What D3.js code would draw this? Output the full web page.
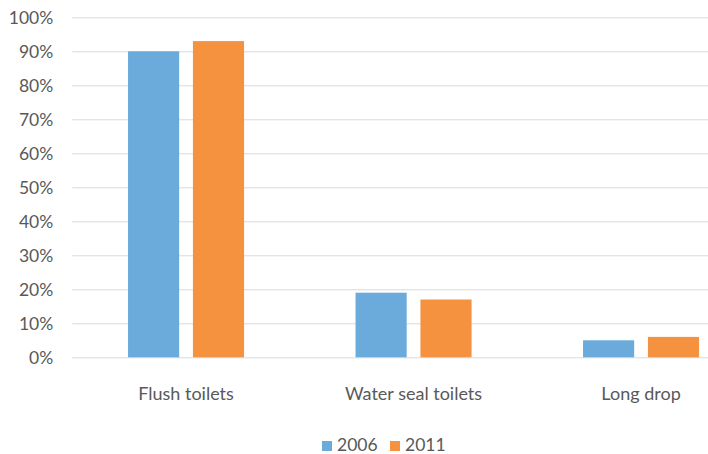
<!DOCTYPE html>
<html>
<head>
<meta charset="utf-8">
<script src="https://cdn.jsdelivr.net/npm/d3@7"></script>
<style>
  body { margin: 0; background: #fff; }
  text { font-family: Lato, "Open Sans", sans-serif; fill: #595959; }
</style>
</head>
<body>
<div id="chart"></div>
<script>
// Chart data
const categories = ["Flush toilets", "Water seal toilets", "Long drop"];
const years = ["2006", "2011"];
const values2006 = [90, 19, 5];
const values2011 = [93, 17, 6];
const yTicks = [0, 10, 20, 30, 40, 50, 60, 70, 80, 90, 100];
const colors = ["#6aabdc", "#f4923f"];

const W = 708, H = 454;
const margin = { top: 17.3, left: 72.3, bottom: 96.7 };
const height = H - margin.top - margin.bottom;

const svg = d3.select("#chart")
  .append("svg")
  .attr("width", W)
  .attr("height", H);

const g = svg.append("g")
  .attr("transform", `translate(${margin.left}, ${margin.top})`);

// Plot area runs past the right edge of the picture
const plotWidth = 682.5;

const y = d3.scaleLinear().domain([0, 100]).range([height, 0]);

const x0 = d3.scaleBand()
  .domain(categories)
  .range([0, plotWidth])
  .paddingInner(0.49)
  .paddingOuter(0.245);

const x1 = d3.scaleBand()
  .domain(years)
  .range([0, x0.bandwidth()])
  .paddingInner(0.212);

const color = d3.scaleOrdinal().domain(years).range(colors);

// Gridlines
g.selectAll(".grid")
  .data(yTicks)
  .enter().append("line")
  .attr("x1", 0)
  .attr("x2", plotWidth)
  .attr("y1", d => Math.round(y(d)) + 0.5)
  .attr("y2", d => Math.round(y(d)) + 0.5)
  .attr("stroke", "#d9d9d9")
  .attr("stroke-width", 1);

// Y axis labels
g.selectAll(".ylab")
  .data(yTicks)
  .enter().append("text")
  .attr("x", -19)
  .attr("y", d => y(d) + 1)
  .attr("dy", "0.35em")
  .attr("text-anchor", "end")
  .style("font-size", "17.5px")
  .text(d => d + "%");

// Bars
const rows = categories.map((c, i) => ({ cat: c, "2006": values2006[i], "2011": values2011[i] }));

g.selectAll(".group")
  .data(rows)
  .enter().append("g")
  .attr("transform", d => `translate(${x0(d.cat)}, 0)`)
  .selectAll("rect")
  .data(d => years.map(k => ({ key: k, value: d[k] })))
  .enter().append("rect")
  .attr("x", d => x1(d.key))
  .attr("y", d => y(d.value))
  .attr("width", x1.bandwidth())
  .attr("height", d => y(0) - y(d.value))
  .attr("fill", d => color(d.key));

// Category labels
g.selectAll(".xlab")
  .data(categories)
  .enter().append("text")
  .attr("x", d => x0(d) + x0.bandwidth() / 2)
  .attr("y", height + 42.5)
  .attr("text-anchor", "middle")
  .style("font-size", "18px")
  .text(d => d);

// Legend
const legendX = [322, 390];
const legend = svg.selectAll(".legend")
  .data(years)
  .enter().append("g")
  .attr("transform", (d, i) => `translate(${legendX[i]}, 441)`);

legend.append("rect")
  .attr("x", 0)
  .attr("y", 0)
  .attr("width", 10)
  .attr("height", 10)
  .attr("fill", d => color(d));

legend.append("text")
  .attr("x", 15)
  .attr("y", 9.5)
  .style("font-size", "17.5px")
  .text(d => d);
</script>
</body>
</html>
